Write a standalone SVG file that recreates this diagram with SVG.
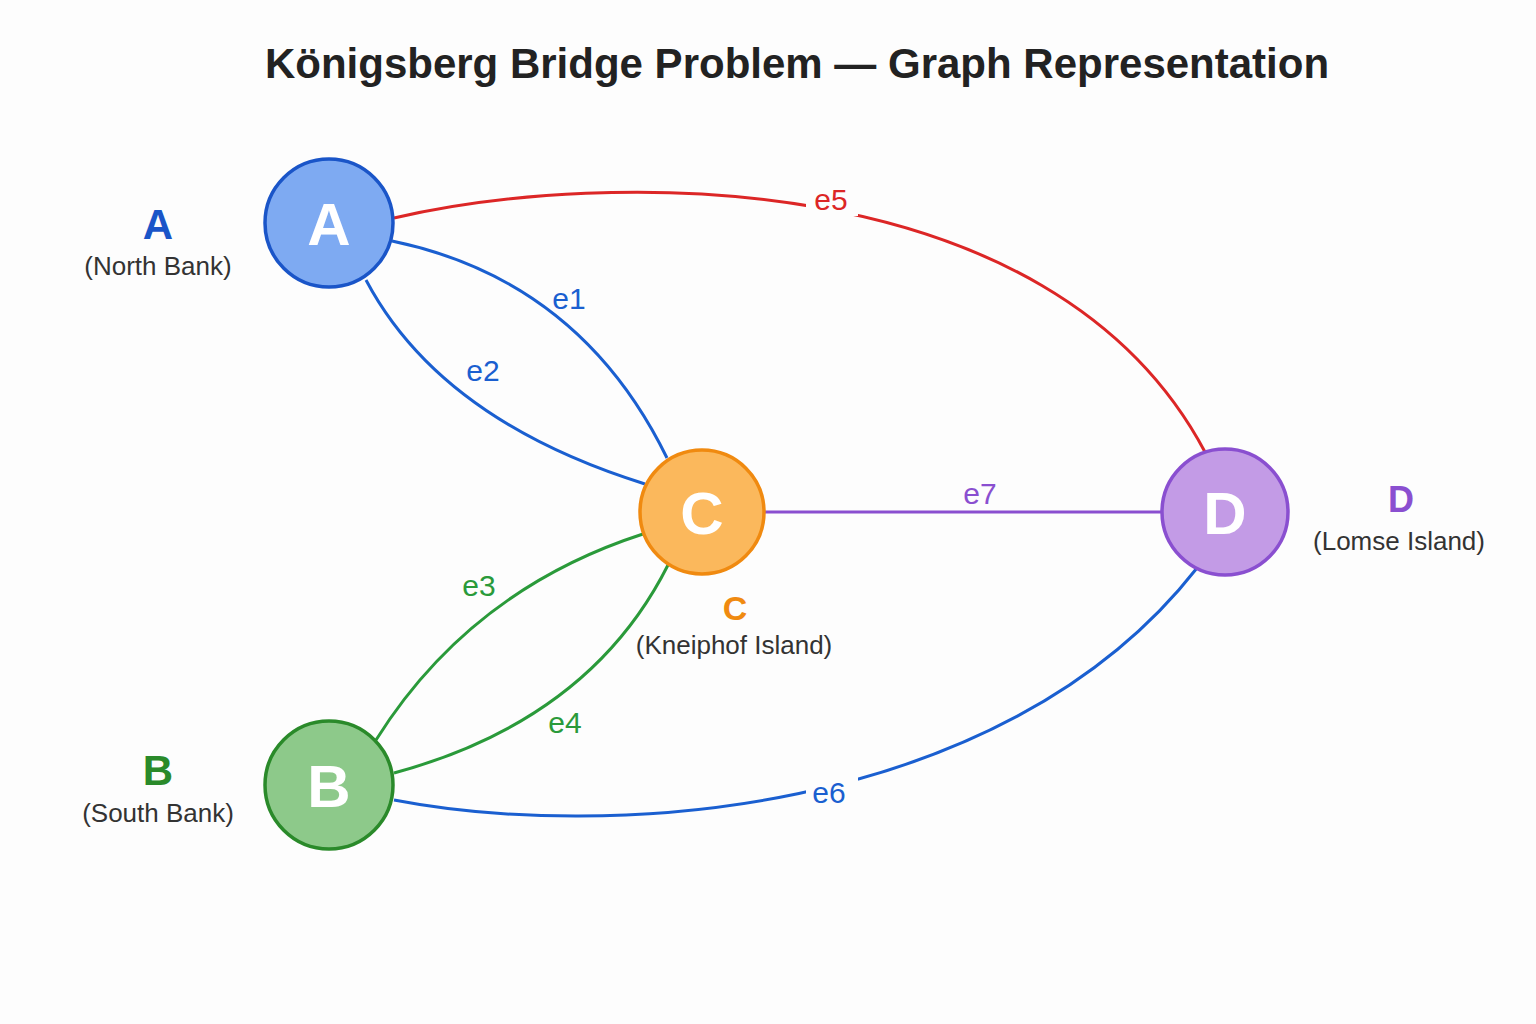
<svg xmlns="http://www.w3.org/2000/svg" width="1536" height="1024" viewBox="0 0 1536 1024">
<style>
.t{font-family:"Liberation Sans",Arial,sans-serif}
.n{stroke-width:3.5}
.L{font-family:"Liberation Sans",Arial,sans-serif;font-size:60px;font-weight:bold;fill:#fff;text-anchor:middle}
.e{fill:none;stroke-width:3}
.el{font-family:"Liberation Sans",Arial,sans-serif;font-size:30px;text-anchor:middle}
.sub{font-family:"Liberation Sans",Arial,sans-serif;font-size:26px;fill:#333;text-anchor:middle}
.big{font-family:"Liberation Sans",Arial,sans-serif;font-size:42px;font-weight:bold;text-anchor:middle}
</style>
<rect width="1536" height="1024" fill="#fdfdfd"/>
<text class="t" x="797" y="78" font-size="42" font-weight="bold" fill="#222" text-anchor="middle">Königsberg Bridge Problem — Graph Representation</text>
<g id="edges">
<path class="e" stroke="#dc2626" d="M394,218 C600,170 1050,160 1205,452"/>
<path class="e" stroke="#1a5fd0" d="M392,241 Q580,280 667,458"/>
<path class="e" stroke="#1a5fd0" d="M366,280 Q440,420 645,484"/>
<path class="e" stroke="#2a9a3a" d="M376,740 Q470,590 643,534"/>
<path class="e" stroke="#2a9a3a" d="M394,773 Q590,720 668,565"/>
<path class="e" stroke="#1a5fd0" d="M394,800 C600,840 1000,820 1197,568"/>
<path class="e" stroke="#8a4fd0" d="M764,512 H1162"/>
<rect x="806" y="180" width="52" height="36" fill="#fdfdfd"/>
<rect x="806" y="774" width="52" height="36" fill="#fdfdfd"/>
<text class="el" x="831" y="210" fill="#dc2626">e5</text>
<text class="el" x="569" y="309" fill="#1a5fd0">e1</text>
<text class="el" x="483" y="381" fill="#1a5fd0">e2</text>
<text class="el" x="479" y="596" fill="#2a9a3a">e3</text>
<text class="el" x="565" y="733" fill="#2a9a3a">e4</text>
<text class="el" x="829" y="803" fill="#1a5fd0">e6</text>
<text class="el" x="980" y="504" fill="#8a4fd0">e7</text>
</g>
<g id="A">
<circle class="n" cx="329" cy="223" r="64" fill="#7eaaf2" stroke="#1a55c8"/>
<text class="L" x="329" y="245">A</text>
<text class="big" x="158" y="239" fill="#1a55c8">A</text>
<text class="sub" x="158" y="275">(North Bank)</text>
</g>
<g id="B">
<circle class="n" cx="329" cy="785" r="64" fill="#8dc98a" stroke="#2a8a2a"/>
<text class="L" x="329" y="807">B</text>
<text class="big" x="158" y="785" fill="#2a8a2a">B</text>
<text class="sub" x="158" y="822">(South Bank)</text>
</g>
<g id="C">
<circle class="n" cx="702" cy="512" r="62" fill="#fbb85c" stroke="#f08a10"/>
<text class="L" x="702" y="534">C</text>
<text class="t" x="735" y="620" font-size="34" font-weight="bold" fill="#f08a10" text-anchor="middle">C</text>
<text class="sub" x="734" y="654" font-size="24">(Kneiphof Island)</text>
</g>
<g id="D">
<circle class="n" cx="1225" cy="512" r="63" fill="#c39be6" stroke="#8a4fd0"/>
<text class="L" x="1225" y="534">D</text>
<text class="t" x="1401" y="512" font-size="36" font-weight="bold" fill="#8a4fd0" text-anchor="middle">D</text>
<text class="sub" x="1399" y="550">(Lomse Island)</text>
</g>
</svg>
